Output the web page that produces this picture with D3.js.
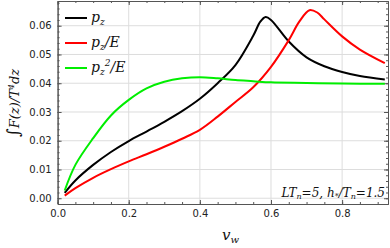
<!DOCTYPE html>
<html>
<head>
<meta charset="utf-8">
<script src="https://cdn.jsdelivr.net/npm/d3@7"></script>
<style>
  body { margin: 0; background: #fff; }
  svg { display: block; }
  .tick text { font-family: "DejaVu Sans", sans-serif; font-size: 10px; fill: #222; }
  .math { font-family: "DejaVu Serif", "Liberation Serif", serif; font-style: italic; fill: #111; }
</style>
</head>
<body>
<svg id="chart" width="390" height="248"></svg>
<script>
// values
var vwA  = [0.02, 0.05, 0.10, 0.15, 0.20, 0.25, 0.30, 0.35, 0.40, 0.45, 0.50, 0.55, 0.57, 0.585, 0.60, 0.65, 0.70, 0.75, 0.80, 0.85, 0.92];
var pz   = [0.0019, 0.0062, 0.0116, 0.0161, 0.0199, 0.0232, 0.0266, 0.0303, 0.0346, 0.0400, 0.0463, 0.0565, 0.0614, 0.0630, 0.0620, 0.0545, 0.0490, 0.0459, 0.0439, 0.0425, 0.0413];
var vwB  = [0.02, 0.05, 0.10, 0.15, 0.20, 0.25, 0.30, 0.35, 0.40, 0.45, 0.50, 0.55, 0.60, 0.65, 0.68, 0.708, 0.73, 0.75, 0.80, 0.85, 0.92];
var pzE  = [0.0009, 0.0035, 0.0071, 0.0101, 0.0128, 0.0153, 0.0179, 0.0207, 0.0238, 0.0284, 0.0335, 0.0386, 0.0457, 0.0550, 0.0615, 0.0654, 0.0646, 0.0622, 0.0563, 0.0517, 0.0470];
var vwC  = [0.02, 0.05, 0.10, 0.15, 0.20, 0.25, 0.30, 0.35, 0.40, 0.45, 0.50, 0.55, 0.60, 0.70, 0.80, 0.92];
var pz2E = [0.0027, 0.0116, 0.0209, 0.0288, 0.0342, 0.0382, 0.0405, 0.0417, 0.0421, 0.0417, 0.0411, 0.0407, 0.0403, 0.0401, 0.0399, 0.0398];
var xTicks = [0.0, 0.2, 0.4, 0.6, 0.8];
var yTicks = [0.00, 0.01, 0.02, 0.03, 0.04, 0.05, 0.06];

var series = [
  { x: vwA, y: pz,   color: "#000" },
  { x: vwB, y: pzE,  color: "#f00" },
  { x: vwC, y: pz2E, color: "#0e0" }
];

var L = 57.6, R = 388, T = 1, B = 204;
var svg = d3.select("#chart");

var x = d3.scaleLinear().domain([0, 0.929]).range([L, R]);
var y = d3.scaleLinear().domain([-0.002, 0.0686]).range([B, T]);

// grid
svg.append("g").selectAll("line").data(xTicks.slice(1)).join("line")
    .attr("x1", function(d){ return x(d); }).attr("x2", function(d){ return x(d); })
    .attr("y1", T).attr("y2", B)
    .attr("stroke", "#ddd").attr("stroke-width", 1);
svg.append("g").selectAll("line").data(yTicks).join("line")
    .attr("x1", L).attr("x2", R)
    .attr("y1", function(d){ return y(d); }).attr("y2", function(d){ return y(d); })
    .attr("stroke", "#ddd").attr("stroke-width", 1);

// axes
var xMinor = d3.range(0, 0.93, 0.05);
var yMinor = d3.range(0, 0.069, 0.002);

function styleAxis(g){
    g.select(".domain").attr("stroke", "#555");
    g.selectAll(".tick line").attr("stroke", "#555");
}

svg.append("g").attr("transform", "translate(0," + B + ")")
    .call(d3.axisBottom(x).tickValues(xTicks).tickFormat(d3.format(".1f")).tickSize(-4).tickPadding(6).tickSizeOuter(0))
    .call(styleAxis);
svg.append("g").attr("transform", "translate(0," + B + ")")
    .call(d3.axisBottom(x).tickValues(xMinor).tickFormat("").tickSize(-2).tickSizeOuter(0))
    .call(styleAxis);
svg.append("g").attr("transform", "translate(0," + T + ")")
    .call(d3.axisTop(x).tickValues(xTicks).tickFormat("").tickSize(-4).tickSizeOuter(0))
    .call(styleAxis);
svg.append("g").attr("transform", "translate(0," + T + ")")
    .call(d3.axisTop(x).tickValues(xMinor).tickFormat("").tickSize(-2).tickSizeOuter(0))
    .call(styleAxis);

svg.append("g").attr("transform", "translate(" + L + ",0)")
    .call(d3.axisLeft(y).tickValues(yTicks).tickFormat(d3.format(".2f")).tickSize(-4).tickPadding(6).tickSizeOuter(0))
    .call(styleAxis);
svg.append("g").attr("transform", "translate(" + L + ",0)")
    .call(d3.axisLeft(y).tickValues(yMinor).tickFormat("").tickSize(-2).tickSizeOuter(0))
    .call(styleAxis);
svg.append("g").attr("transform", "translate(" + R + ",0)")
    .call(d3.axisRight(y).tickValues(yTicks).tickFormat("").tickSize(-4).tickSizeOuter(0))
    .call(styleAxis);
svg.append("g").attr("transform", "translate(" + R + ",0)")
    .call(d3.axisRight(y).tickValues(yMinor).tickFormat("").tickSize(-2).tickSizeOuter(0))
    .call(styleAxis);

// curves
var line = d3.line().curve(d3.curveCatmullRom.alpha(0.5));
svg.append("g").selectAll("path").data(series).join("path")
    .attr("d", function(s){ return line(s.x.map(function(v, i){ return [x(v), y(s.y[i])]; })); })
    .attr("fill", "none")
    .attr("stroke", function(s){ return s.color; })
    .attr("stroke-width", 2);

// legend
var leg = svg.append("g");
var legRows = [
  { color: "#000", y: 18 },
  { color: "#f00", y: 43 },
  { color: "#0e0", y: 68 }
];
leg.selectAll("line").data(legRows).join("line")
    .attr("x1", 65).attr("x2", 87)
    .attr("y1", function(d){ return d.y; }).attr("y2", function(d){ return d.y; })
    .attr("stroke", function(d){ return d.color; }).attr("stroke-width", 2);

var t1 = leg.append("text").attr("class", "math").attr("x", 91).attr("y", 22).style("font-size", "14px");
t1.append("tspan").text("p");
t1.append("tspan").text("z").attr("dy", 3).style("font-size", "9px");

var t2 = leg.append("text").attr("class", "math").attr("x", 91).attr("y", 47).style("font-size", "14px");
t2.append("tspan").text("p");
t2.append("tspan").text("z").attr("dy", 3).style("font-size", "9px");
t2.append("tspan").text("/E").attr("dy", -3);

var t3 = leg.append("text").attr("class", "math").attr("x", 91).attr("y", 72).style("font-size", "14px");
t3.append("tspan").text("p");
t3.append("tspan").text("z").attr("dy", 3).style("font-size", "9px");
t3.append("tspan").text("2").attr("dy", -9).style("font-size", "9px");
t3.append("tspan").text("/E").attr("dy", 6);

// annotation
var an = svg.append("text").attr("class", "math").attr("x", 385).attr("y", 197)
    .attr("text-anchor", "end").style("font-size", "12px");
an.append("tspan").text("LT");
an.append("tspan").text("n").attr("dy", 2).style("font-size", "8px");
an.append("tspan").text("=5, h").attr("dy", -2);
an.append("tspan").text("*").attr("dy", 2).style("font-size", "8px");
an.append("tspan").text("/T").attr("dy", -2);
an.append("tspan").text("n").attr("dy", 2).style("font-size", "8px");
an.append("tspan").text("=1.5").attr("dy", -2);

// axis labels
var xl = svg.append("text").attr("class", "math").attr("x", 222).attr("y", 240).style("font-size", "15px");
xl.append("tspan").text("v");
xl.append("tspan").text("w").attr("dy", 3).style("font-size", "10px");

var yl = svg.append("text").attr("class", "math")
    .attr("transform", "translate(19,103) rotate(-90)")
    .attr("text-anchor", "middle").style("font-size", "13px");
yl.append("tspan").text("\u222B").style("font-size", "17px");
yl.append("tspan").text("F(z)/T");
yl.append("tspan").text("4").attr("dy", -5).style("font-size", "8px");
yl.append("tspan").text("dz").attr("dy", 5);
</script>
</body>
</html>
